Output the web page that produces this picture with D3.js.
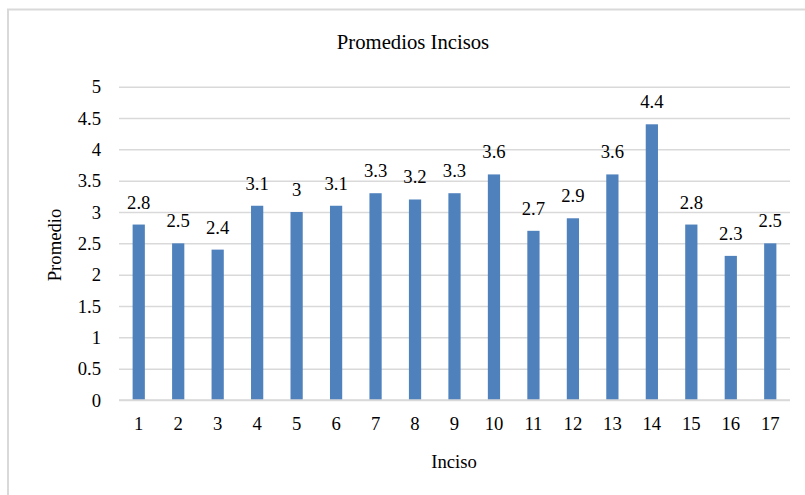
<!DOCTYPE html>
<html>
<head>
<meta charset="utf-8">
<script src="https://cdn.jsdelivr.net/npm/d3@7"></script>
<style>
  html, body { margin: 0; padding: 0; background: #fff; }
  svg { display: block; }
  svg text { font-family: "Liberation Serif", "Times New Roman", serif; }
</style>
</head>
<body>
<svg id="chart" width="805" height="495"></svg>
<script>
// Average score per item (inciso)
const incisos = ["1","2","3","4","5","6","7","8","9","10","11","12","13","14","15","16","17"];
const promedios = [2.8, 2.5, 2.4, 3.1, 3, 3.1, 3.3, 3.2, 3.3, 3.6, 2.7, 2.9, 3.6, 4.4, 2.8, 2.3, 2.5];
const yTicks = [0, 0.5, 1, 1.5, 2, 2.5, 3, 3.5, 4, 4.5, 5];

const SERIF = "Liberation Serif, Times New Roman, serif";
const svg = d3.select("#chart");
const plot = { left: 119, right: 790, top: 86.7, bottom: 400 };

// outer frame
svg.append("rect")
  .attr("x", 8).attr("y", 9.5)
  .attr("width", 820).attr("height", 520)
  .attr("fill", "none").attr("stroke", "#d9d9d9").attr("stroke-width", 2);

const x = d3.scaleBand()
  .domain(incisos)
  .range([plot.left, plot.right])
  .paddingInner(0.69)
  .paddingOuter(0.345);

const y = d3.scaleLinear().domain([0, 5]).range([plot.bottom, plot.top]);

// gridlines
const yAxis = d3.axisLeft(y)
  .tickValues(yTicks)
  .tickSize(-(plot.right - plot.left))
  .tickPadding(18)
  .tickFormat(d => String(d));
const gy = svg.append("g").attr("transform", `translate(${plot.left},0)`).call(yAxis);
gy.select(".domain").remove();
gy.selectAll(".tick line").attr("stroke", "#d9d9d9").attr("stroke-width", 1.5);
gy.selectAll(".tick text")
  .attr("font-family", SERIF)
  .attr("font-size", 18.7).attr("fill", "#000").attr("dy", "0.33em");

// bars
svg.append("g").selectAll("rect")
  .data(promedios)
  .join("rect")
  .attr("x", (d, i) => x(incisos[i]))
  .attr("y", d => y(d))
  .attr("width", x.bandwidth())
  .attr("height", d => y(0) - y(d))
  .attr("fill", "#4f81bd");

// baseline
svg.append("line")
  .attr("x1", plot.left).attr("x2", plot.right)
  .attr("y1", y(0)).attr("y2", y(0))
  .attr("stroke", "#d9d9d9").attr("stroke-width", 1.5);

// x axis labels
const xAxis = d3.axisBottom(x).tickSize(0).tickPadding(17);
const gx = svg.append("g").attr("transform", `translate(0,${plot.bottom})`).call(xAxis);
gx.select(".domain").remove();
gx.selectAll(".tick text")
  .attr("font-family", SERIF)
  .attr("font-size", 18.7).attr("fill", "#000");

// value labels
svg.append("g").selectAll("text")
  .data(promedios)
  .join("text")
  .attr("x", (d, i) => x(incisos[i]) + x.bandwidth() / 2)
  .attr("y", d => y(d) - 16)
  .attr("text-anchor", "middle")
  .attr("font-family", SERIF)
  .attr("font-size", 18.7)
  .attr("fill", "#000")
  .text(d => String(d));

// title
svg.append("text")
  .attr("x", 413).attr("y", 49)
  .attr("text-anchor", "middle")
  .attr("font-family", SERIF)
  .attr("font-size", 20.7)
  .attr("fill", "#000")
  .text("Promedios Incisos");

// axis titles
svg.append("text")
  .attr("x", 454).attr("y", 468)
  .attr("text-anchor", "middle")
  .attr("font-family", SERIF)
  .attr("font-size", 18.7)
  .attr("fill", "#000")
  .text("Inciso");

svg.append("text")
  .attr("transform", "translate(61,245) rotate(-90)")
  .attr("text-anchor", "middle")
  .attr("font-family", SERIF)
  .attr("font-size", 18.7)
  .attr("fill", "#000")
  .text("Promedio");
</script>
</body>
</html>
